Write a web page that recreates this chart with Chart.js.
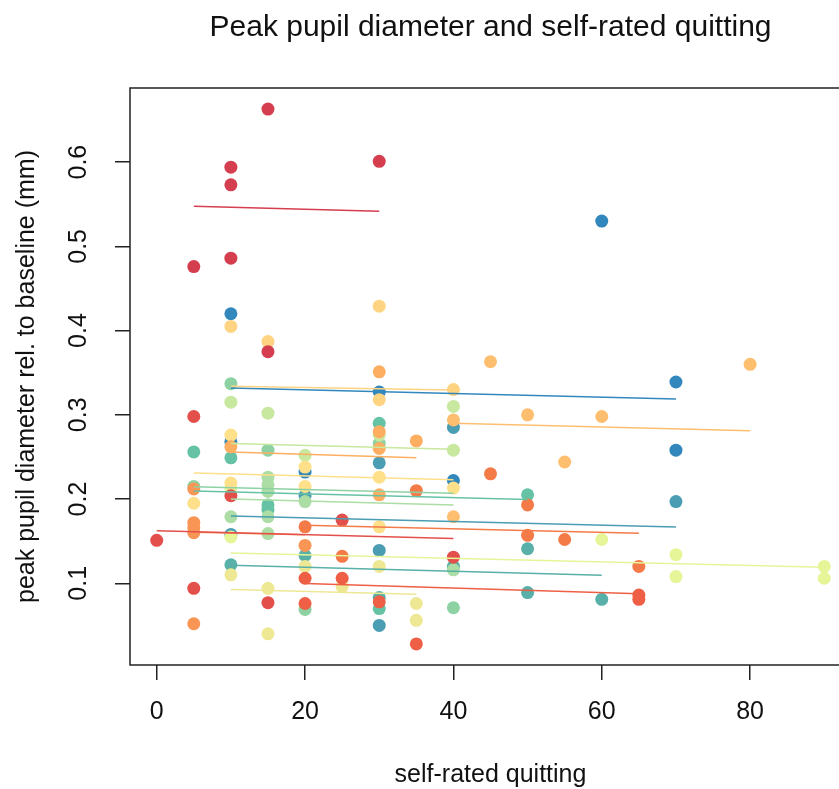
<!DOCTYPE html>
<html>
<head>
<meta charset="utf-8">
<script src="https://cdn.jsdelivr.net/npm/chart.js@4/dist/chart.umd.min.js"></script>
<style>
  html, body { margin: 0; padding: 0; overflow: hidden; background: #fff; }
  #wrap { position: relative; width: 870px; height: 789px; }
</style>
</head>
<body>
<div id="wrap"><canvas id="pupilChart"></canvas></div>
<script>
// axis ticks
const ratingTicks = [0, 20, 40, 60, 80];
const pupilTicks = [0.1, 0.2, 0.3, 0.4, 0.5, 0.6];

// one colour per participant (Spectral ramp)
const subjectColors = [
  '#D53E4F', '#E34F4A', '#EE5F45', '#F47A48', '#F99555', '#FDAE61',
  '#FDBF6F', '#FED483', '#FEE08B', '#EEE894', '#E6F598', '#C7E89E',
  '#ABDDA4', '#8ED2A4', '#66C2A5', '#58B0A9', '#4A9DB3', '#3288BD'
];

// self-rated quitting per trial, grouped by participant
const ratings = [
  [5, 10, 10, 10, 15, 15, 30],
  [0, 5, 5, 10, 15, 25, 40],
  [20, 20, 25, 30, 35, 65, 65],
  [20, 25, 35, 45, 50, 50, 55, 65],
  [5, 5, 5, 5, 5, 20],
  [10, 30, 30, 30, 30, 35],
  [40, 40, 45, 50, 55, 60, 80],
  [10, 15, 30, 30, 40],
  [5, 10, 10, 20, 20, 30, 30, 40],
  [10, 15, 15, 20, 25, 30, 35, 35],
  [10, 10, 60, 70, 70, 90, 90],
  [10, 15, 20, 30, 40, 40],
  [10, 15, 15, 15, 15, 15, 20, 40],
  [5, 10, 15, 20, 30, 40],
  [5, 10, 15, 15, 30, 30, 50],
  [10, 20, 30, 40, 50, 50, 60],
  [10, 20, 30, 30, 30, 40, 70],
  [10, 10, 20, 30, 40, 60, 70, 70]
];

// peak pupil diameter (mm) per trial, same grouping
const peaks = [
  [0.476, 0.594, 0.573, 0.486, 0.663, 0.375, 0.601],
  [0.151, 0.298, 0.094, 0.204, 0.077, 0.175, 0.131],
  [0.106, 0.076, 0.106, 0.078, 0.028, 0.086, 0.081],
  [0.167, 0.132, 0.210, 0.230, 0.193, 0.157, 0.152, 0.120],
  [0.212, 0.172, 0.166, 0.160, 0.052, 0.145],
  [0.262, 0.351, 0.280, 0.260, 0.205, 0.269],
  [0.294, 0.179, 0.363, 0.300, 0.244, 0.298, 0.360],
  [0.405, 0.387, 0.429, 0.318, 0.330],
  [0.195, 0.276, 0.219, 0.238, 0.215, 0.226, 0.167, 0.213],
  [0.110, 0.094, 0.040, 0.120, 0.096, 0.120, 0.076, 0.056],
  [0.213, 0.155, 0.152, 0.134, 0.108, 0.120, 0.106],
  [0.315, 0.302, 0.252, 0.276, 0.310, 0.258],
  [0.179, 0.226, 0.217, 0.209, 0.179, 0.159, 0.197, 0.116],
  [0.215, 0.337, 0.258, 0.069, 0.266, 0.071],
  [0.256, 0.249, 0.193, 0.187, 0.290, 0.070, 0.205],
  [0.122, 0.133, 0.083, 0.120, 0.141, 0.089, 0.081],
  [0.158, 0.204, 0.243, 0.139, 0.050, 0.285, 0.197],
  [0.420, 0.268, 0.232, 0.327, 0.222, 0.530, 0.339, 0.258]
];

// fitted line per participant: rating range and predicted values at both ends
const fitFrom = [5, 0, 20, 20, 5, 10, 40, 10, 5, 10, 10, 10, 10, 5, 5, 10, 10, 10];
const fitTo   = [30, 40, 65, 65, 20, 35, 80, 40, 40, 35, 90, 40, 40, 40, 50, 60, 70, 70];
const fitStart = [0.5475, 0.1625, 0.0998, 0.1690, 0.1605, 0.2560, 0.2900, 0.3340, 0.2310,
                  0.0926, 0.1360, 0.2660, 0.2000, 0.2145, 0.2095, 0.1215, 0.1800, 0.3317];
const fitEnd   = [0.5416, 0.1532, 0.0875, 0.1595, 0.1575, 0.2490, 0.2810, 0.3295, 0.2230,
                  0.0871, 0.1190, 0.2590, 0.1930, 0.2070, 0.1995, 0.1095, 0.1667, 0.3187];

const FONT = '"Liberation Sans", Arial, sans-serif';

const datasets = [];
subjectColors.forEach((color, i) => {
  datasets.push({
    type: 'scatter',
    data: ratings[i].map((x, j) => ({ x, y: peaks[i][j] })),
    backgroundColor: color,
    borderWidth: 0,
    pointRadius: 6.5,
    pointHoverRadius: 6.5,
    order: 2,
  });
  datasets.push({
    type: 'line',
    data: [{ x: fitFrom[i], y: fitStart[i] }, { x: fitTo[i], y: fitEnd[i] }],
    borderColor: color,
    borderWidth: 1.5,
    pointRadius: 0,
    fill: false,
    tension: 0,
    order: 1,
  });
});

// plot frame and rotated y tick labels
const frame = {
  id: 'frame',
  afterDraw(chart) {
    const { ctx, chartArea: a, scales } = chart;
    ctx.save();
    ctx.strokeStyle = '#222';
    ctx.lineWidth = 1.5;
    ctx.strokeRect(a.left, a.top, a.right - a.left, a.bottom - a.top);

    ctx.fillStyle = '#111';
    ctx.font = '25px ' + FONT;
    ctx.textAlign = 'center';
    ctx.textBaseline = 'middle';
    pupilTicks.forEach(v => {
      const py = scales.y.getPixelForValue(v);
      ctx.save();
      ctx.translate(79, py);
      ctx.rotate(-Math.PI / 2);
      ctx.fillText(String(v), 0, 0);
      ctx.restore();
    });
    ctx.restore();
  }
};

new Chart(document.getElementById('pupilChart'), {
  data: { datasets },
  options: {
    responsive: true,
    maintainAspectRatio: false,
    animation: false,
    events: [],
    layout: { padding: { left: 0, right: 19, top: 0, bottom: 0 } },
    plugins: {
      legend: { display: false },
      tooltip: { enabled: false },
      title: {
        display: true,
        fullSize: false,
        text: 'Peak pupil diameter and self-rated quitting',
        color: '#111',
        font: { family: FONT, size: 30, weight: 'normal', lineHeight: 1.2 },
        padding: { top: 10, bottom: 42 },
      },
    },
    scales: {
      x: {
        type: 'linear',
        min: -3.6,
        max: 93.6,
        afterBuildTicks: s => { s.ticks = ratingTicks.map(value => ({ value })); },
        afterFit: s => { s.height = 124; },
        border: { display: false },
        grid: { drawOnChartArea: false, drawTicks: true, tickLength: 15, color: '#222', lineWidth: 1.5 },
        ticks: { color: '#111', font: { family: FONT, size: 25 }, padding: 17, maxRotation: 0 },
        title: {
          display: true,
          text: 'self-rated quitting',
          color: '#111',
          font: { family: FONT, size: 25, lineHeight: 1 },
          padding: { top: 0, bottom: 1 },
        },
      },
      y: {
        type: 'linear',
        min: 0.003,
        max: 0.688,
        afterBuildTicks: s => { s.ticks = pupilTicks.map(value => ({ value })); },
        afterFit: s => { s.width = 130; },
        border: { display: false },
        grid: { drawOnChartArea: false, drawTicks: true, tickLength: 15, color: '#222', lineWidth: 1.5 },
        ticks: { display: false },
        title: {
          display: true,
          text: 'peak pupil diameter rel. to baseline (mm)',
          color: '#111',
          font: { family: FONT, size: 25, lineHeight: 1 },
          padding: { top: 15, bottom: 0 },
        },
      },
    },
  },
  plugins: [frame],
});
</script>
</body>
</html>
